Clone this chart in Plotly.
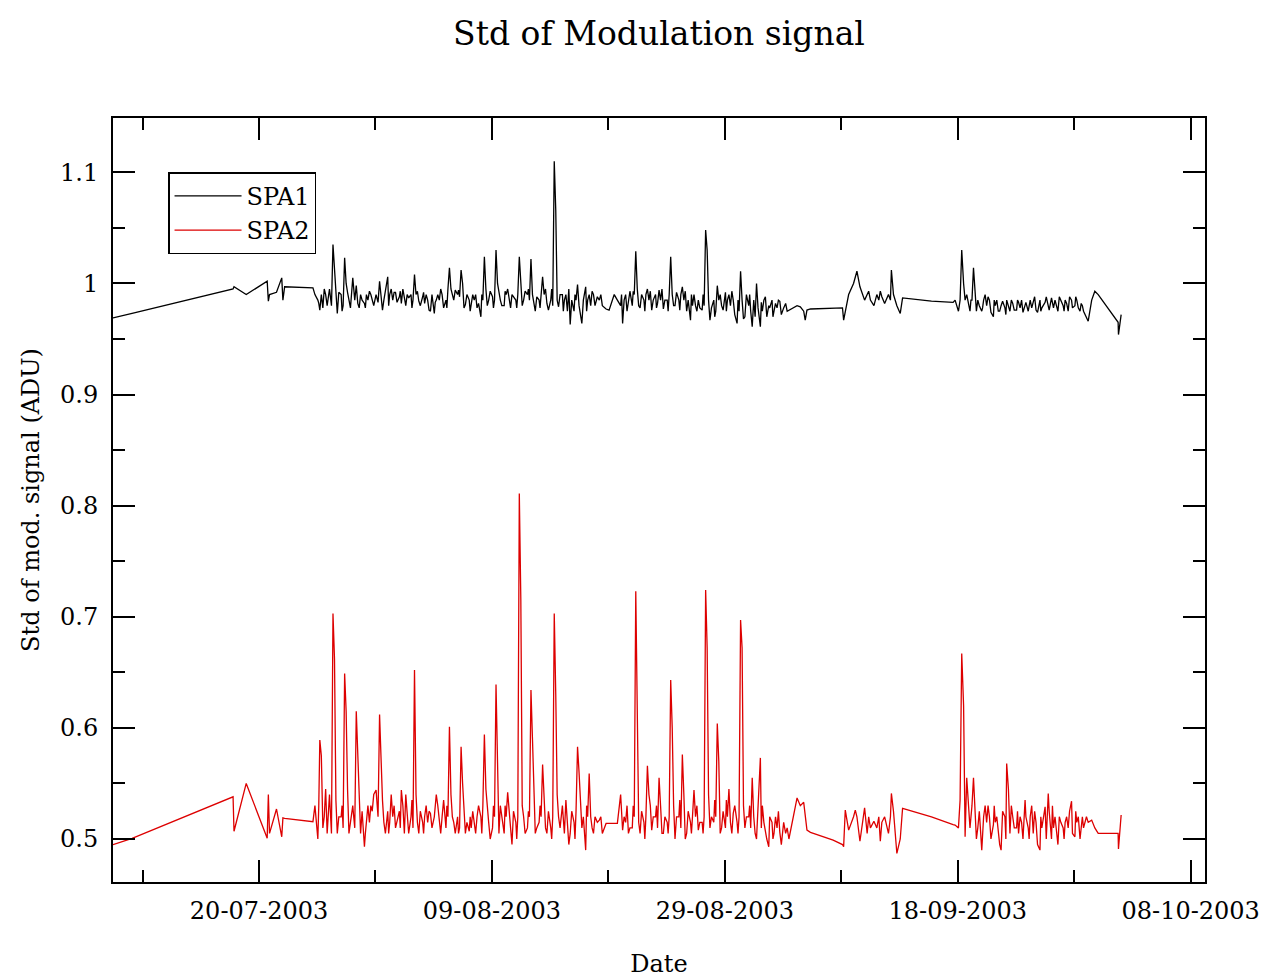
import plotly.graph_objects as go
import pandas as pd

# sample times: days since 2003-07-01 00:00
day = [
    6.46, 8.1, 16.77, 16.85, 17.9,
    19.7, 19.8, 19.9, 20.5, 20.95, 21.05, 21.2,
    23.63, 23.8,
    24.05, 24.22, 24.35, 24.48, 24.72,
    25.05, 25.22, 25.35, 25.48, 25.72,
    26.05, 26.22, 26.35, 26.48, 26.72,
    27.05, 27.22, 27.35, 27.48, 27.72,
    28.05, 28.22, 28.35, 28.48, 28.72,
    29.05, 29.22, 29.35, 29.48, 29.72,
    30.05, 30.22, 30.35, 30.48, 30.72,
    31.05, 31.22, 31.35, 31.48, 31.72,
    32.05, 32.22, 32.35, 32.48, 32.72,
    33.05, 33.22, 33.35, 33.48, 33.72,
    34.05, 34.22, 34.35, 34.48, 34.72,
    35.05, 35.22, 35.35, 35.48, 35.72,
    36.05, 36.22, 36.35, 36.48, 36.72,
    37.05, 37.22, 37.35, 37.48, 37.72,
    38.05, 38.22, 38.35, 38.48, 38.72,
    39.05, 39.22, 39.35, 39.48, 39.72,
    40.05, 40.22, 40.35, 40.48, 40.72,
    41.05, 41.22, 41.35, 41.48, 41.72,
    42.05, 42.22, 42.35, 42.48, 42.72,
    43.05, 43.22, 43.35, 43.48, 43.72,
    44.05, 44.22, 44.35, 44.48, 44.72,
    45.05, 45.22, 45.35, 45.48, 45.72,
    46.05, 46.22, 46.35, 46.48, 46.72,
    47.05, 47.22, 47.35, 47.48, 47.72,
    48.05, 48.22, 48.35, 48.48, 48.8,
    49.06, 49.5, 49.77,
    50.05, 50.22, 50.35, 50.48, 50.72,
    51.05, 51.22, 51.35, 51.48, 51.72,
    52.05, 52.22, 52.35, 52.48, 52.72,
    53.05, 53.22, 53.35, 53.48, 53.72,
    54.05, 54.22, 54.35, 54.48, 54.72,
    55.05, 55.22, 55.35, 55.48, 55.72,
    56.05, 56.22, 56.35, 56.48, 56.72,
    57.05, 57.22, 57.35, 57.48, 57.72,
    58.05, 58.22, 58.35, 58.48, 58.72,
    59.05, 59.22, 59.35, 59.48, 59.72,
    60.05, 60.22, 60.35, 60.48, 60.72,
    61.05, 61.22, 61.35, 61.48, 61.72,
    62.05, 62.22, 62.35, 62.48, 62.77,
    63.05, 63.22, 63.35, 63.48, 63.72,
    64.05, 64.22, 64.35, 64.5,
    65.2, 65.48, 65.77, 65.9,
    66.05, 66.35, 68.3, 69.1, 69.2,
    69.34, 69.63, 70.05, 70.2, 70.34, 70.6,
    71.0, 71.22, 71.35, 71.5, 71.8,
    72.05, 72.22, 72.35, 72.48, 72.72,
    73.05, 73.22, 73.3, 73.48, 73.77,
    74.06, 74.26, 76.74, 78.6, 78.77,
    79.06, 79.2, 79.34, 79.5, 79.63, 79.77,
    80.05, 80.22, 80.35, 80.48, 80.72,
    81.06, 81.22, 81.35, 81.48, 81.72,
    82.06, 82.22, 82.35, 82.48, 82.72,
    83.05, 83.2, 83.35, 83.48, 83.72,
    84.05, 84.22, 84.35, 84.48, 84.78,
    85.05, 85.22, 85.35, 85.48, 85.72,
    86.06, 86.22, 86.5, 86.77,
    87.05, 87.22, 87.35, 87.48, 87.72,
    88.05, 88.22, 88.35, 88.48, 88.77,
    89.06, 89.22, 89.35, 89.6, 89.8,
    90.05, 90.2, 90.5, 90.77,
    91.06, 91.2, 92.63, 92.77, 92.8, 93.03,
]

spa1 = [
    0.969, 0.973, 0.995, 0.997, 0.990,
    1.002, 0.984, 0.990, 0.992, 1.005, 0.985, 0.997,
    0.996, 0.990,
    0.985, 0.976, 0.990, 0.978, 0.990,
    0.995, 0.980, 1.035, 1.010, 0.973,
    0.990, 0.980, 1.023, 1.000, 0.985,
    1.005, 0.985, 0.998, 0.982, 0.990,
    0.982, 0.990, 0.985, 0.993, 0.984,
    0.990, 0.983, 1.002, 0.990, 0.985,
    1.006, 0.990, 0.995, 0.985, 0.992,
    0.988, 0.982, 0.995, 0.985, 0.990,
    0.990, 0.985, 1.008, 0.990, 0.984,
    0.988, 0.982, 0.990, 0.985, 0.975,
    0.973, 0.985, 0.990, 0.985, 0.990,
    0.985, 0.995, 1.014, 0.995, 0.985,
    0.990, 0.988, 1.012, 1.000, 0.981,
    0.985, 0.980, 0.990, 0.985, 0.978,
    0.970, 0.985, 1.024, 0.995, 0.985,
    0.988, 0.985, 1.030, 1.000, 0.985,
    0.980, 0.990, 0.995, 0.985, 0.990,
    0.985, 0.990, 1.024, 0.995, 0.985,
    0.990, 0.985, 1.022, 0.990, 0.975,
    0.985, 0.990, 1.006, 0.990, 0.982,
    0.985, 0.980, 1.110, 1.066, 0.979,
    0.990, 0.985, 0.990, 0.975, 0.963,
    0.975, 0.985, 0.999, 0.980, 0.964,
    0.997, 0.985, 0.990, 0.980, 0.990,
    0.988, 0.985, 0.990, 0.980, 0.977,
    0.976, 0.990, 0.985,
    0.980, 0.964, 0.985, 0.990, 0.985,
    0.980, 0.990, 1.029, 0.995, 0.978,
    0.985, 0.990, 0.995, 0.985, 0.976,
    0.990, 0.982, 0.994, 0.985, 0.977,
    0.985, 0.990, 1.024, 0.990, 0.980,
    0.985, 0.990, 0.997, 0.985, 0.975,
    0.967, 0.980, 0.990, 0.980, 0.985,
    0.976, 0.980, 1.048, 1.030, 0.967,
    0.985, 0.975, 0.998, 0.985, 0.980,
    0.992, 0.985, 0.990, 0.980, 0.985,
    0.964, 0.975, 1.011, 0.985, 0.970,
    0.980, 0.975, 0.961, 0.985, 1.000,
    0.961, 0.975, 0.985, 0.988, 0.980,
    0.985, 0.975, 0.982, 0.978, 0.984,
    0.978, 0.982, 0.975, 0.976,
    0.980, 0.979, 0.975, 0.967,
    0.976, 0.977, 0.978, 0.978, 0.967,
    0.975, 0.990, 1.000, 1.005, 1.011, 0.997,
    0.985, 0.990, 0.993, 0.985, 0.980,
    0.990, 0.985, 0.993, 0.988, 0.982,
    0.990, 0.985, 1.012, 0.990, 0.980,
    0.973, 0.987, 0.984, 0.983, 0.985,
    0.975, 0.985, 1.030, 1.000, 0.985, 0.990,
    0.975, 0.985, 1.014, 0.990, 0.985,
    0.975, 0.985, 0.990, 0.980, 0.985,
    0.970, 0.980, 0.985, 0.975, 0.980,
    0.978, 0.985, 0.980, 0.975, 0.982,
    0.976, 0.983, 0.978, 0.985, 0.980,
    0.975, 0.985, 0.978, 0.983, 0.976,
    0.985, 0.978, 0.983, 0.980,
    0.987, 0.978, 0.985, 0.980, 0.988,
    0.980, 0.985, 0.982, 0.975, 0.985,
    0.980, 0.985, 0.978, 0.982, 0.975,
    0.970, 0.966, 0.985, 0.993,
    0.990, 0.988, 0.967, 0.965, 0.954, 0.972,
]

spa2 = [
    0.495, 0.5006, 0.538, 0.507, 0.550,
    0.5006, 0.540, 0.505, 0.527, 0.502, 0.519, 0.5186,
    0.5156, 0.530,
    0.500, 0.589, 0.575, 0.510, 0.545,
    0.540, 0.505, 0.703, 0.662, 0.505,
    0.520, 0.510, 0.649, 0.615, 0.505,
    0.530, 0.510, 0.615, 0.580, 0.505,
    0.493, 0.516, 0.530, 0.515, 0.525,
    0.544, 0.520, 0.612, 0.570, 0.515,
    0.525, 0.515, 0.540, 0.520, 0.510,
    0.525, 0.544, 0.530, 0.505, 0.520,
    0.520, 0.510, 0.652, 0.540, 0.505,
    0.515, 0.520, 0.530, 0.515, 0.523,
    0.520, 0.540, 0.530, 0.515, 0.520,
    0.510, 0.520, 0.601, 0.540, 0.515,
    0.520, 0.510, 0.583, 0.550, 0.505,
    0.507, 0.510, 0.525, 0.515, 0.520,
    0.520, 0.530, 0.594, 0.545, 0.515,
    0.510, 0.520, 0.639, 0.560, 0.530,
    0.505, 0.520, 0.542, 0.520, 0.495,
    0.515, 0.520, 0.811, 0.715, 0.520,
    0.510, 0.520, 0.634, 0.590, 0.505,
    0.515, 0.520, 0.567, 0.540, 0.505,
    0.510, 0.520, 0.703, 0.630, 0.520,
    0.530, 0.505, 0.535, 0.510, 0.505,
    0.515, 0.525, 0.583, 0.560, 0.510,
    0.490, 0.520, 0.559, 0.520, 0.505,
    0.515, 0.517, 0.520, 0.505, 0.514,
    0.514, 0.514, 0.514,
    0.540, 0.508, 0.520, 0.515, 0.505,
    0.510, 0.520, 0.723, 0.620, 0.505,
    0.515, 0.520, 0.566, 0.540, 0.508,
    0.520, 0.510, 0.555, 0.530, 0.505,
    0.515, 0.520, 0.643, 0.600, 0.500,
    0.520, 0.510, 0.576, 0.540, 0.505,
    0.515, 0.520, 0.544, 0.520, 0.508,
    0.515, 0.520, 0.724, 0.672, 0.510,
    0.515, 0.520, 0.604, 0.570, 0.510,
    0.510, 0.520, 0.545, 0.515, 0.523,
    0.515, 0.520, 0.697, 0.672, 0.510,
    0.520, 0.510, 0.555, 0.520, 0.500,
    0.573, 0.530, 0.515, 0.505, 0.493,
    0.515, 0.505, 0.520, 0.510, 0.506,
    0.515, 0.505, 0.510, 0.500,
    0.537, 0.530, 0.533, 0.520,
    0.508, 0.506, 0.499, 0.495, 0.493,
    0.526, 0.508, 0.520, 0.526, 0.520, 0.498,
    0.528, 0.505, 0.520, 0.510, 0.516,
    0.510, 0.520, 0.498, 0.515, 0.520,
    0.505, 0.520, 0.541, 0.525, 0.487,
    0.500, 0.5276, 0.520, 0.513, 0.5126,
    0.510, 0.535, 0.667, 0.620, 0.502, 0.555,
    0.510, 0.530, 0.555, 0.525, 0.510,
    0.490, 0.520, 0.530, 0.515, 0.520,
    0.513, 0.515, 0.520, 0.505, 0.490,
    0.520, 0.568, 0.545, 0.505, 0.520,
    0.510, 0.505, 0.520, 0.515, 0.535,
    0.510, 0.520, 0.530, 0.505, 0.515,
    0.490, 0.510, 0.529, 0.541,
    0.500, 0.510, 0.520, 0.505, 0.520,
    0.510, 0.515, 0.520, 0.510, 0.534,
    0.502, 0.515, 0.520, 0.514, 0.510,
    0.520, 0.515, 0.517, 0.510,
    0.505, 0.505, 0.505, 0.505, 0.491, 0.5216,
]

# additional in-between samples of the dense stretches (same units)
day_extra = [
    24.13, 24.6, 24.85, 25.13, 25.6, 25.85, 26.13, 26.6, 26.85,
    27.13, 27.6, 27.85, 28.13, 28.6, 28.85, 29.13, 29.6, 29.85,
    30.13, 30.6, 30.85, 31.13, 31.6, 31.85, 32.13, 32.6, 32.85,
    33.13, 33.6, 33.85, 34.13, 34.6, 34.85, 35.13, 35.6, 35.85,
    36.13, 36.6, 36.85, 37.13, 37.6, 37.85, 38.13, 38.6, 38.85,
    39.13, 39.6, 39.85, 40.13, 40.6, 40.85, 41.13, 41.6, 41.85,
    42.13, 42.6, 42.85, 43.13, 43.6, 43.85, 44.13, 44.6, 44.85,
    45.13, 45.6, 45.85, 46.13, 46.6, 46.85, 47.13, 47.6, 47.85,
    50.13, 50.6, 50.85, 51.13, 51.6, 51.85, 52.13, 52.6, 52.85,
    53.13, 53.6, 53.85, 54.13, 54.6, 54.85, 55.13, 55.6, 55.85,
    56.13, 56.6, 56.85, 57.13, 57.6, 57.85, 58.13, 58.6, 58.85,
    59.13, 59.6, 59.85, 60.13, 60.6, 60.85, 61.13, 61.6, 61.85,
    62.13, 62.6, 62.85, 63.13, 63.6, 63.85,
    80.13, 80.6, 80.85, 81.13, 81.6, 81.85, 82.13, 82.6, 82.85,
    83.13, 83.6, 83.85, 84.13, 84.6, 84.85, 85.13, 85.6, 85.85,
    86.13, 86.6, 86.85, 87.13, 87.6, 87.85, 88.13, 88.6, 88.85,
    89.13, 89.5, 89.7,
]
spa1_extra = [
    0.982, 0.995, 0.980, 0.985, 0.990, 0.992, 0.975, 0.992, 0.978,
    0.992, 0.978, 0.985, 0.978, 0.990, 0.980, 0.985, 0.976, 0.995,
    0.980, 0.992, 0.983, 0.993, 0.980, 0.987, 0.978, 0.993, 0.980,
    0.992, 0.976, 0.990, 0.983, 0.995, 0.978, 0.978, 0.990, 0.994,
    0.994, 0.978, 0.990, 0.975, 0.990, 0.982, 0.990, 0.980, 0.993,
    0.978, 0.992, 0.980, 0.993, 0.978, 0.988, 0.978, 0.980, 0.993,
    0.995, 0.980, 0.988, 0.978, 0.995, 0.976, 0.995, 0.985, 0.990,
    0.975, 0.995, 0.985, 0.990, 0.972, 0.985, 0.975, 0.993, 0.980,
    0.990, 0.975, 0.993, 0.993, 0.980, 0.990, 0.975, 0.993, 0.985,
    0.978, 0.995, 0.985, 0.975, 0.980, 0.992, 0.976, 0.993, 0.985,
    0.990, 0.975, 0.978, 0.990, 0.985, 0.978, 0.970, 0.990, 0.976,
    0.975, 0.993, 0.972, 0.985, 0.968, 0.990, 0.990, 0.970, 0.978,
    0.983, 0.970, 0.978, 0.970, 0.985, 0.972,
    0.985, 0.975, 0.980, 0.978, 0.988, 0.974, 0.985, 0.975, 0.984,
    0.972, 0.985, 0.976, 0.985, 0.974, 0.983, 0.980, 0.988, 0.974,
    0.975, 0.988, 0.976, 0.982, 0.975, 0.985, 0.975, 0.988, 0.978,
    0.988, 0.975, 0.980,
]
spa2_extra = [
    0.530, 0.520, 0.505, 0.515, 0.535, 0.520, 0.530, 0.545, 0.515,
    0.520, 0.540, 0.525, 0.505, 0.530, 0.540, 0.530, 0.535, 0.505,
    0.505, 0.530, 0.515, 0.510, 0.540, 0.505, 0.535, 0.515, 0.525,
    0.505, 0.525, 0.510, 0.530, 0.505, 0.535, 0.530, 0.520, 0.505,
    0.505, 0.530, 0.515, 0.520, 0.505, 0.530, 0.505, 0.525, 0.500,
    0.530, 0.505, 0.520, 0.530, 0.510, 0.525, 0.500, 0.530, 0.505,
    0.525, 0.535, 0.510, 0.530, 0.510, 0.525, 0.500, 0.540, 0.510,
    0.520, 0.495, 0.525, 0.500, 0.530, 0.520, 0.530, 0.510, 0.520,
    0.520, 0.530, 0.510, 0.530, 0.515, 0.525, 0.500, 0.530, 0.520,
    0.530, 0.505, 0.520, 0.505, 0.530, 0.520, 0.535, 0.500, 0.525,
    0.505, 0.530, 0.515, 0.505, 0.540, 0.520, 0.535, 0.505, 0.525,
    0.535, 0.505, 0.530, 0.505, 0.530, 0.520, 0.530, 0.505, 0.525,
    0.510, 0.500, 0.520, 0.500, 0.525, 0.495,
    0.520, 0.500, 0.525, 0.505, 0.530, 0.500, 0.530, 0.495, 0.525,
    0.500, 0.530, 0.510, 0.525, 0.500, 0.520, 0.500, 0.525, 0.495,
    0.520, 0.500, 0.525, 0.530, 0.495, 0.515, 0.500, 0.525, 0.505,
    0.525, 0.500, 0.520,
]

assert len(day) == len(spa1) == len(spa2)
assert len(day_extra) == len(spa1_extra) == len(spa2_extra)

df = pd.DataFrame({
    "day": day + day_extra,
    "spa1": spa1 + spa1_extra,
    "spa2": spa2 + spa2_extra,
}).sort_values("day", kind="stable")

base = pd.Timestamp("2003-07-01")
t = base + pd.to_timedelta(df["day"], unit="D")

FONT = "DejaVu Serif"
DAY_MS = 86400000

fig = go.Figure()
fig.add_trace(go.Scatter(x=t, y=df["spa1"], mode="lines", name="SPA1",
                         line=dict(color="black", width=1.3)))
fig.add_trace(go.Scatter(x=t, y=df["spa2"], mode="lines", name="SPA2",
                         line=dict(color="#dd0000", width=1.3)))

x_range = [str(base + pd.Timedelta(days=6.46)), str(base + pd.Timedelta(days=100.23))]

fig.update_layout(
    width=1266, height=978,
    margin=dict(l=113, r=61, t=118, b=96),
    paper_bgcolor="white", plot_bgcolor="white",
    font=dict(family=FONT, size=24, color="black"),
    title=dict(text="Std of Modulation signal", x=0.5, xref="paper", xanchor="center",
               y=1 - 33 / 978, yref="container", yanchor="middle",
               font=dict(family=FONT, size=33, color="black")),
    showlegend=True,
    legend=dict(x=0.0504, y=0.929, xanchor="left", yanchor="top",
                bordercolor="black", borderwidth=1.5, bgcolor="white",
                itemwidth=67,
                font=dict(family=FONT, size=24, color="black"), tracegroupgap=0),
)

fig.update_xaxes(
    type="date", range=x_range, tick0="2003-07-20", dtick=20 * DAY_MS,
    tickformat="%d-%m-%Y", ticks="inside", ticklen=22, tickwidth=1.5, tickcolor="black",
    showline=True, linecolor="black", linewidth=2, mirror="ticks",
    showgrid=False, zeroline=False,
    minor=dict(tick0="2003-07-20", dtick=10 * DAY_MS, ticks="inside", ticklen=12,
               tickwidth=1.5, tickcolor="black", showgrid=False),
    ticklabelstandoff=6,
    title=dict(text="Date", standoff=38, font=dict(family=FONT, size=24)),
    automargin=False,
)
fig.update_yaxes(
    range=[0.4613, 1.1489], tick0=0, dtick=0.1,
    ticks="inside", ticklen=22, tickwidth=1.5, tickcolor="black",
    showline=True, linecolor="black", linewidth=2, mirror="ticks",
    showgrid=False, zeroline=False,
    minor=dict(dtick=0.05, ticks="inside", ticklen=12, tickwidth=1.5,
               tickcolor="black", showgrid=False),
    ticklabelstandoff=8,
    title=dict(text="Std of mod. signal (ADU)", standoff=14, font=dict(family=FONT, size=24)),
    automargin=False,
)

fig.write_html("out.html")
